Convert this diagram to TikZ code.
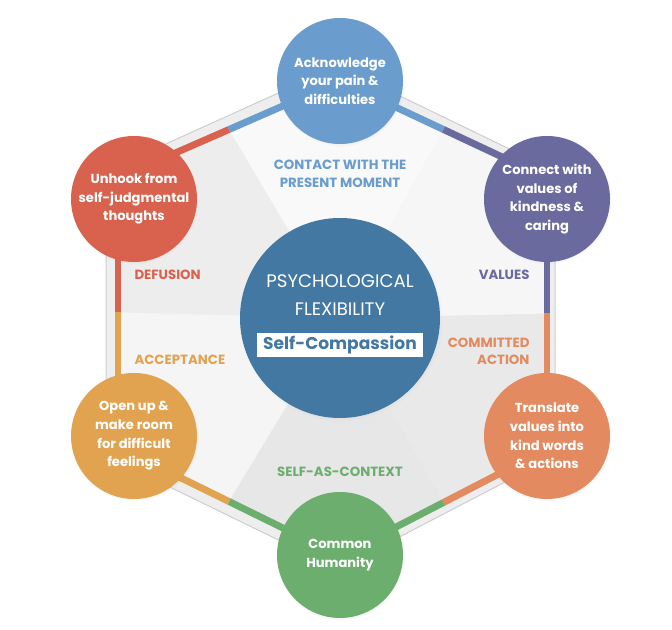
\documentclass[tikz,border=0pt]{standalone}
\usepackage{fontspec}
\setmainfont{Poppins}
\usetikzlibrary{shadows,calc}

\definecolor{cBlue}{RGB}{106,156,205}
\definecolor{cRed}{RGB}{217,98,78}
\definecolor{cPurple}{RGB}{106,106,158}
\definecolor{cGold}{RGB}{226,163,80}
\definecolor{cOrange}{RGB}{227,138,96}
\definecolor{cGreen}{RGB}{108,174,110}
\definecolor{cCore}{RGB}{66,120,162}
\definecolor{cFrame}{RGB}{238,238,238}
\definecolor{cFrameLine}{RGB}{206,206,206}

\tikzset{every picture/.style={line width=0.75pt}}
\tikzset{
  bubble/.style={circle, minimum size=94.5pt, inner sep=0pt, align=center, text=white,
    font=\fontsize{9.8}{14}\selectfont\bfseries,
    circular drop shadow={shadow scale=1.02, shadow xshift=0.6pt, shadow yshift=-1pt, opacity=0.2}},
  edge/.style={line width=5.2pt},
  tag/.style={inner sep=0pt, align=center, font=\fontsize{10}{13.9}\selectfont\bfseries},
}

\begin{document}
\begin{tikzpicture}[x=0.75pt,y=0.75pt,yscale=-1,xscale=1]
	\useasboundingbox (0,0) rectangle (672,630);

	% hexagon corners and edge midpoints
	\coordinate (hub) at (340,318);
	\coordinate (vT) at (340,81);
	\coordinate (vUL) at (118,178);
	\coordinate (vLL) at (118,447);
	\coordinate (vB) at (340,556);
	\coordinate (vLR) at (547,449);
	\coordinate (vUR) at (547,178);
	\coordinate (mTL) at ($(vUL)!0.5!(vT)$);
	\coordinate (mL) at ($(vUL)!0.5!(vLL)$);
	\coordinate (mBL) at ($(vLL)!0.5!(vB)$);
	\coordinate (mBR) at ($(vB)!0.5!(vLR)$);
	\coordinate (mR) at ($(vLR)!0.5!(vUR)$);
	\coordinate (mTR) at ($(vUR)!0.5!(vT)$);

	%Shape: Polygon (frame)
	\draw [draw=cFrameLine, fill=cFrame] (338,66) -- (555,171) -- (555,456) -- (338,569) -- (106,456) -- (106,171) -- cycle ;

	%Shape: Sectors
	\fill [fill={rgb, 255:red, 249; green, 249; blue, 249 }] (hub) -- (mTL) -- (vT) -- (mTR) -- cycle ;
	\fill [fill={rgb, 255:red, 237; green, 237; blue, 237 }] (hub) -- (mTL) -- (vUL) -- (mL) -- cycle ;
	\fill [fill={rgb, 255:red, 245; green, 245; blue, 245 }] (hub) -- (mL) -- (vLL) -- (mBL) -- cycle ;
	\fill [fill={rgb, 255:red, 231; green, 231; blue, 231 }] (hub) -- (mBL) -- (vB) -- (mBR) -- cycle ;
	\fill [fill={rgb, 255:red, 233; green, 233; blue, 233 }] (hub) -- (mBR) -- (vLR) -- (mR) -- cycle ;
	\fill [fill={rgb, 255:red, 246; green, 246; blue, 246 }] (hub) -- (mR) -- (vUR) -- (mTR) -- cycle ;

	%Straight Lines (hexagon edges, two colours each)
	\draw [edge, cRed] (vUL) -- (mTL) ;
	\draw [edge, cBlue] (mTL) -- (vT) ;
	\draw [edge, cBlue] (vT) -- (mTR) ;
	\draw [edge, cPurple] (mTR) -- (vUR) ;
	\draw [edge, cPurple] (vUR) -- (mR) ;
	\draw [edge, cOrange] (mR) -- (vLR) ;
	\draw [edge, cOrange] (vLR) -- (mBR) ;
	\draw [edge, cGreen] (mBR) -- (vB) ;
	\draw [edge, cGreen] (vB) -- (mBL) ;
	\draw [edge, cGold] (mBL) -- (vLL) ;
	\draw [edge, cGold] (vLL) -- (mL) ;
	\draw [edge, cRed] (mL) -- (vUL) ;

	%Shape: Circle
	\node [bubble, fill=cBlue] (pain) at (340,81) {Acknowledge\\your pain \&\\difficulties};
	%Shape: Circle
	\node [bubble, fill=cRed] (unhook) at (134,199) {Unhook from\\self-judgmental\\thoughts};
	%Shape: Circle
	\node [bubble, fill=cPurple] (kind) at (547,199) {Connect with\\values of\\kindness \&\\caring};
	%Shape: Circle
	\node [bubble, fill=cGold] (openup) at (134,436) {Open up \&\\make room\\for difficult\\feelings};
	%Shape: Circle
	\node [bubble, fill=cOrange] (translate) at (547,436) {Translate\\values into\\kind words\\\& actions};
	%Shape: Circle
	\node [bubble, fill=cGreen] (common) at (340,555) {Common\\Humanity};
	%Shape: Circle
	\node [bubble, fill=cCore, minimum size=150pt] (core) at (340,318) {};

	% Text Node
	\node [text=white, align=center, inner sep=0pt, font=\fontsize{13.6}{21}\selectfont] (flex) at (340,295) {PSYCHOLOGICAL\\FLEXIBILITY};
	% Text Node
	\node [fill=white, text=cCore, inner xsep=4.5pt, inner ysep=0pt, minimum height=18pt, font=\fontsize{12.8}{14}\selectfont\bfseries] (selfcomp) at (340,345) {Self-Compassion};

	% Text Node
	\node [tag, text=cBlue] (contact) at (340,174) {CONTACT WITH THE\\PRESENT MOMENT};
	% Text Node
	\node [tag, text=cRed, anchor=west] (defusion) at (134,275) {DEFUSION};
	% Text Node
	\node [tag, text=cPurple, anchor=east] (values) at (530,275) {VALUES};
	% Text Node
	\node [tag, text=cGold, anchor=west] (accept) at (134,360) {ACCEPTANCE};
	% Text Node
	\node [tag, text=cOrange, anchor=east, align=right, font=\fontsize{10}{13}\selectfont\bfseries] (committed) at (530,351) {COMMITTED\\ACTION};
	% Text Node
	\node [tag, text=cGreen] (context) at (340,472) {SELF-AS-CONTEXT};

\end{tikzpicture}
\end{document}
